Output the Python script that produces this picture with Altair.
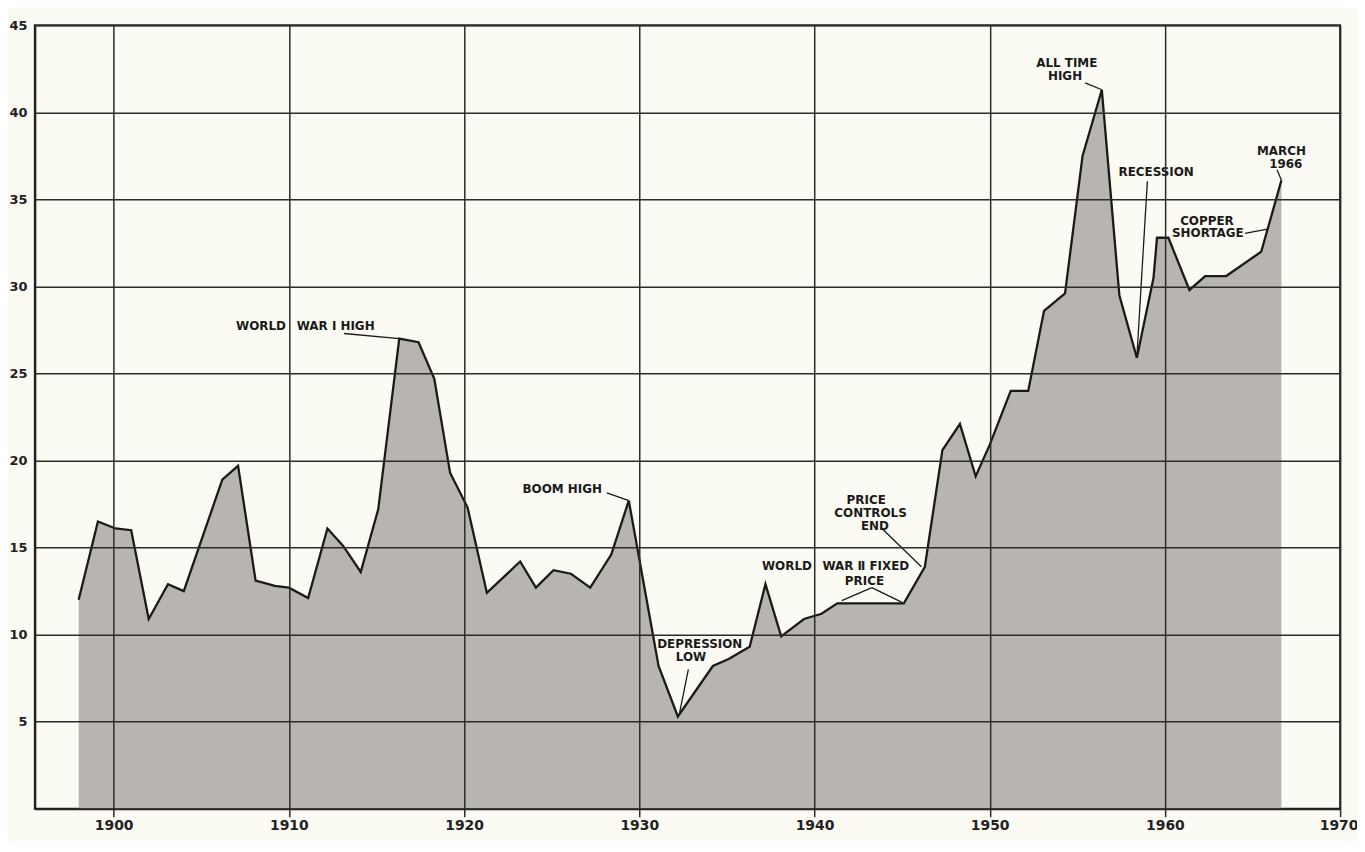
import altair as alt
import pandas as pd

# ---- price series (cents per pound) ----
years = [1898.0, 1899.1, 1900.1, 1901.0, 1902.0, 1903.1, 1904.0, 1906.2, 1907.1,
         1908.1, 1909.2, 1910.0, 1911.1, 1912.2, 1913.1, 1914.1, 1915.1, 1916.3,
         1917.4, 1918.3, 1919.2, 1920.2, 1921.3, 1923.2, 1924.1, 1925.1, 1926.1,
         1927.2, 1928.4, 1929.4, 1931.1, 1932.2, 1934.2, 1935.1, 1936.3, 1937.2,
         1938.1, 1939.4, 1940.4, 1941.3, 1945.1, 1946.3, 1947.3, 1948.3, 1949.2,
         1950.0, 1951.2, 1952.2, 1953.1, 1954.3, 1955.3, 1956.4, 1957.4, 1958.4,
         1959.35, 1959.55, 1960.2, 1961.4, 1962.3, 1963.5, 1965.5, 1966.65]
prices = [12.0, 16.5, 16.1, 16.0, 10.9, 12.9, 12.5, 18.9, 19.7,
          13.1, 12.8, 12.7, 12.1, 16.1, 15.1, 13.6, 17.2, 27.0,
          26.8, 24.7, 19.3, 17.3, 12.4, 14.2, 12.7, 13.7, 13.5,
          12.7, 14.6, 17.7, 8.2, 5.3, 8.2, 8.6, 9.3, 12.9,
          9.9, 10.9, 11.2, 11.8, 11.8, 13.9, 20.6, 22.1, 19.1,
          20.9, 24.0, 24.0, 28.6, 29.6, 37.5, 41.3, 29.5, 25.9,
          30.5, 32.8, 32.8, 29.8, 30.6, 30.6, 32.0, 36.1]

# ---- axis tick values ----
x_ticks = [1900, 1910, 1920, 1930, 1940, 1950, 1960, 1970]
y_ticks = [5, 10, 15, 20, 25, 30, 35, 40, 45]

# ---- annotations (text lines) ----
note_text = ["WORLD", "WAR \u2160 HIGH", "BOOM HIGH", "DEPRESSION", "LOW",
             "WORLD", "WAR \u2161 FIXED", "PRICE",
             "PRICE", "CONTROLS", "END",
             "ALL TIME", "HIGH", "RECESSION", "COPPER", "SHORTAGE", "MARCH", "1966"]
note_year = [1909.83, 1910.45, 1925.6, 1933.45, 1932.95,
             1939.85, 1940.45, 1942.85,
             1942.95, 1943.2, 1943.45,
             1954.4, 1954.3, 1959.5, 1962.4, 1962.45, 1966.65, 1966.9]
note_price = [27.75, 27.75, 18.35, 9.45, 8.7,
              13.97, 13.97, 13.1,
              17.72, 16.97, 16.25,
              42.85, 42.1, 36.6, 33.75, 33.05, 37.8, 37.05]
note_align = ["right", "left", "center", "center", "center",
              "right", "left", "center",
              "center", "center", "center",
              "center", "center", "center", "center", "center", "center", "center"]

# ---- leader lines ----
lead_year = [1913.15, 1928.15, 1932.8, 1941.56, 1943.27, 1943.85, 1955.45, 1959.0, 1964.57, 1966.4]
lead_price = [27.3, 18.15, 8.0, 11.95, 12.7, 16.1, 41.7, 36.05, 33.05, 36.7]
lead_year2 = [1916.3, 1929.4, 1932.3, 1943.27, 1945.0, 1946.1, 1956.4, 1958.4, 1965.85, 1966.65]
lead_price2 = [27.0, 17.7, 5.5, 12.7, 11.85, 13.9, 41.3, 25.95, 33.3, 36.1]

df = pd.DataFrame({"year": years, "price": prices})
notes = pd.DataFrame({"x": note_year, "y": note_price, "text": note_text, "al": note_align})
leads = pd.DataFrame({"x": lead_year, "y": lead_price, "x2": lead_year2, "y2": lead_price2})

INK = "#1a1a1a"
xscale = alt.Scale(domain=[1895.5, 1970], nice=False, zero=False)
yscale = alt.Scale(domain=[0, 45], nice=False, zero=True)

xaxis = alt.Axis(values=x_ticks, format="d", title=None, grid=True, ticks=True,
                 tickSize=8, labelPadding=2, labelFlush=True, labelFlushOffset=18,
                 labelFontSize=14, zindex=1)
yaxis = alt.Axis(values=y_ticks, title=None, grid=True, ticks=False,
                 labelPadding=8, labelFontSize=13, zindex=1)

area = alt.Chart(df).mark_area(color="#b8b5b1", opacity=1).encode(
    x=alt.X("year:Q", scale=xscale, axis=xaxis),
    y=alt.Y("price:Q", scale=yscale, axis=yaxis),
)
line = alt.Chart(df).mark_line(color=INK, strokeWidth=2.3, strokeJoin="miter").encode(
    x=alt.X("year:Q", title=None),
    y=alt.Y("price:Q", title=None),
)
rules = alt.Chart(leads).mark_rule(color=INK, strokeWidth=1.3).encode(
    x=alt.X("x:Q", title=None), y=alt.Y("y:Q", title=None), x2="x2:Q", y2="y2:Q"
)


def text_layer(al):
    return alt.Chart(notes).transform_filter(f"datum.al === '{al}'").mark_text(
        align=al, baseline="middle", font="DejaVu Sans", fontWeight="bold",
        fontSize=12, color=INK
    ).encode(
        x=alt.X("x:Q", title=None), y=alt.Y("y:Q", title=None), text="text:N"
    )


chart = alt.layer(
    area, line, rules, text_layer("left"), text_layer("right"), text_layer("center")
).properties(
    width=1313, height=788,
    padding={"left": 27, "top": 15, "right": 17, "bottom": 30},
    autosize=alt.AutoSizeParams(type="none"),
    background="#fbfaf3",
).configure_view(
    stroke="#222222", strokeWidth=2
).configure_axis(
    domain=True, domainColor="#222222", domainWidth=2,
    gridColor="#2b2b2b", gridWidth=1.5, gridOpacity=1,
    tickColor="#2b2b2b", tickWidth=1.5,
    labelFont="DejaVu Sans", labelFontWeight="bold",
    labelColor="#222222",
)

chart.save("out.html", embed_options={"renderer": "svg", "actions": False})
